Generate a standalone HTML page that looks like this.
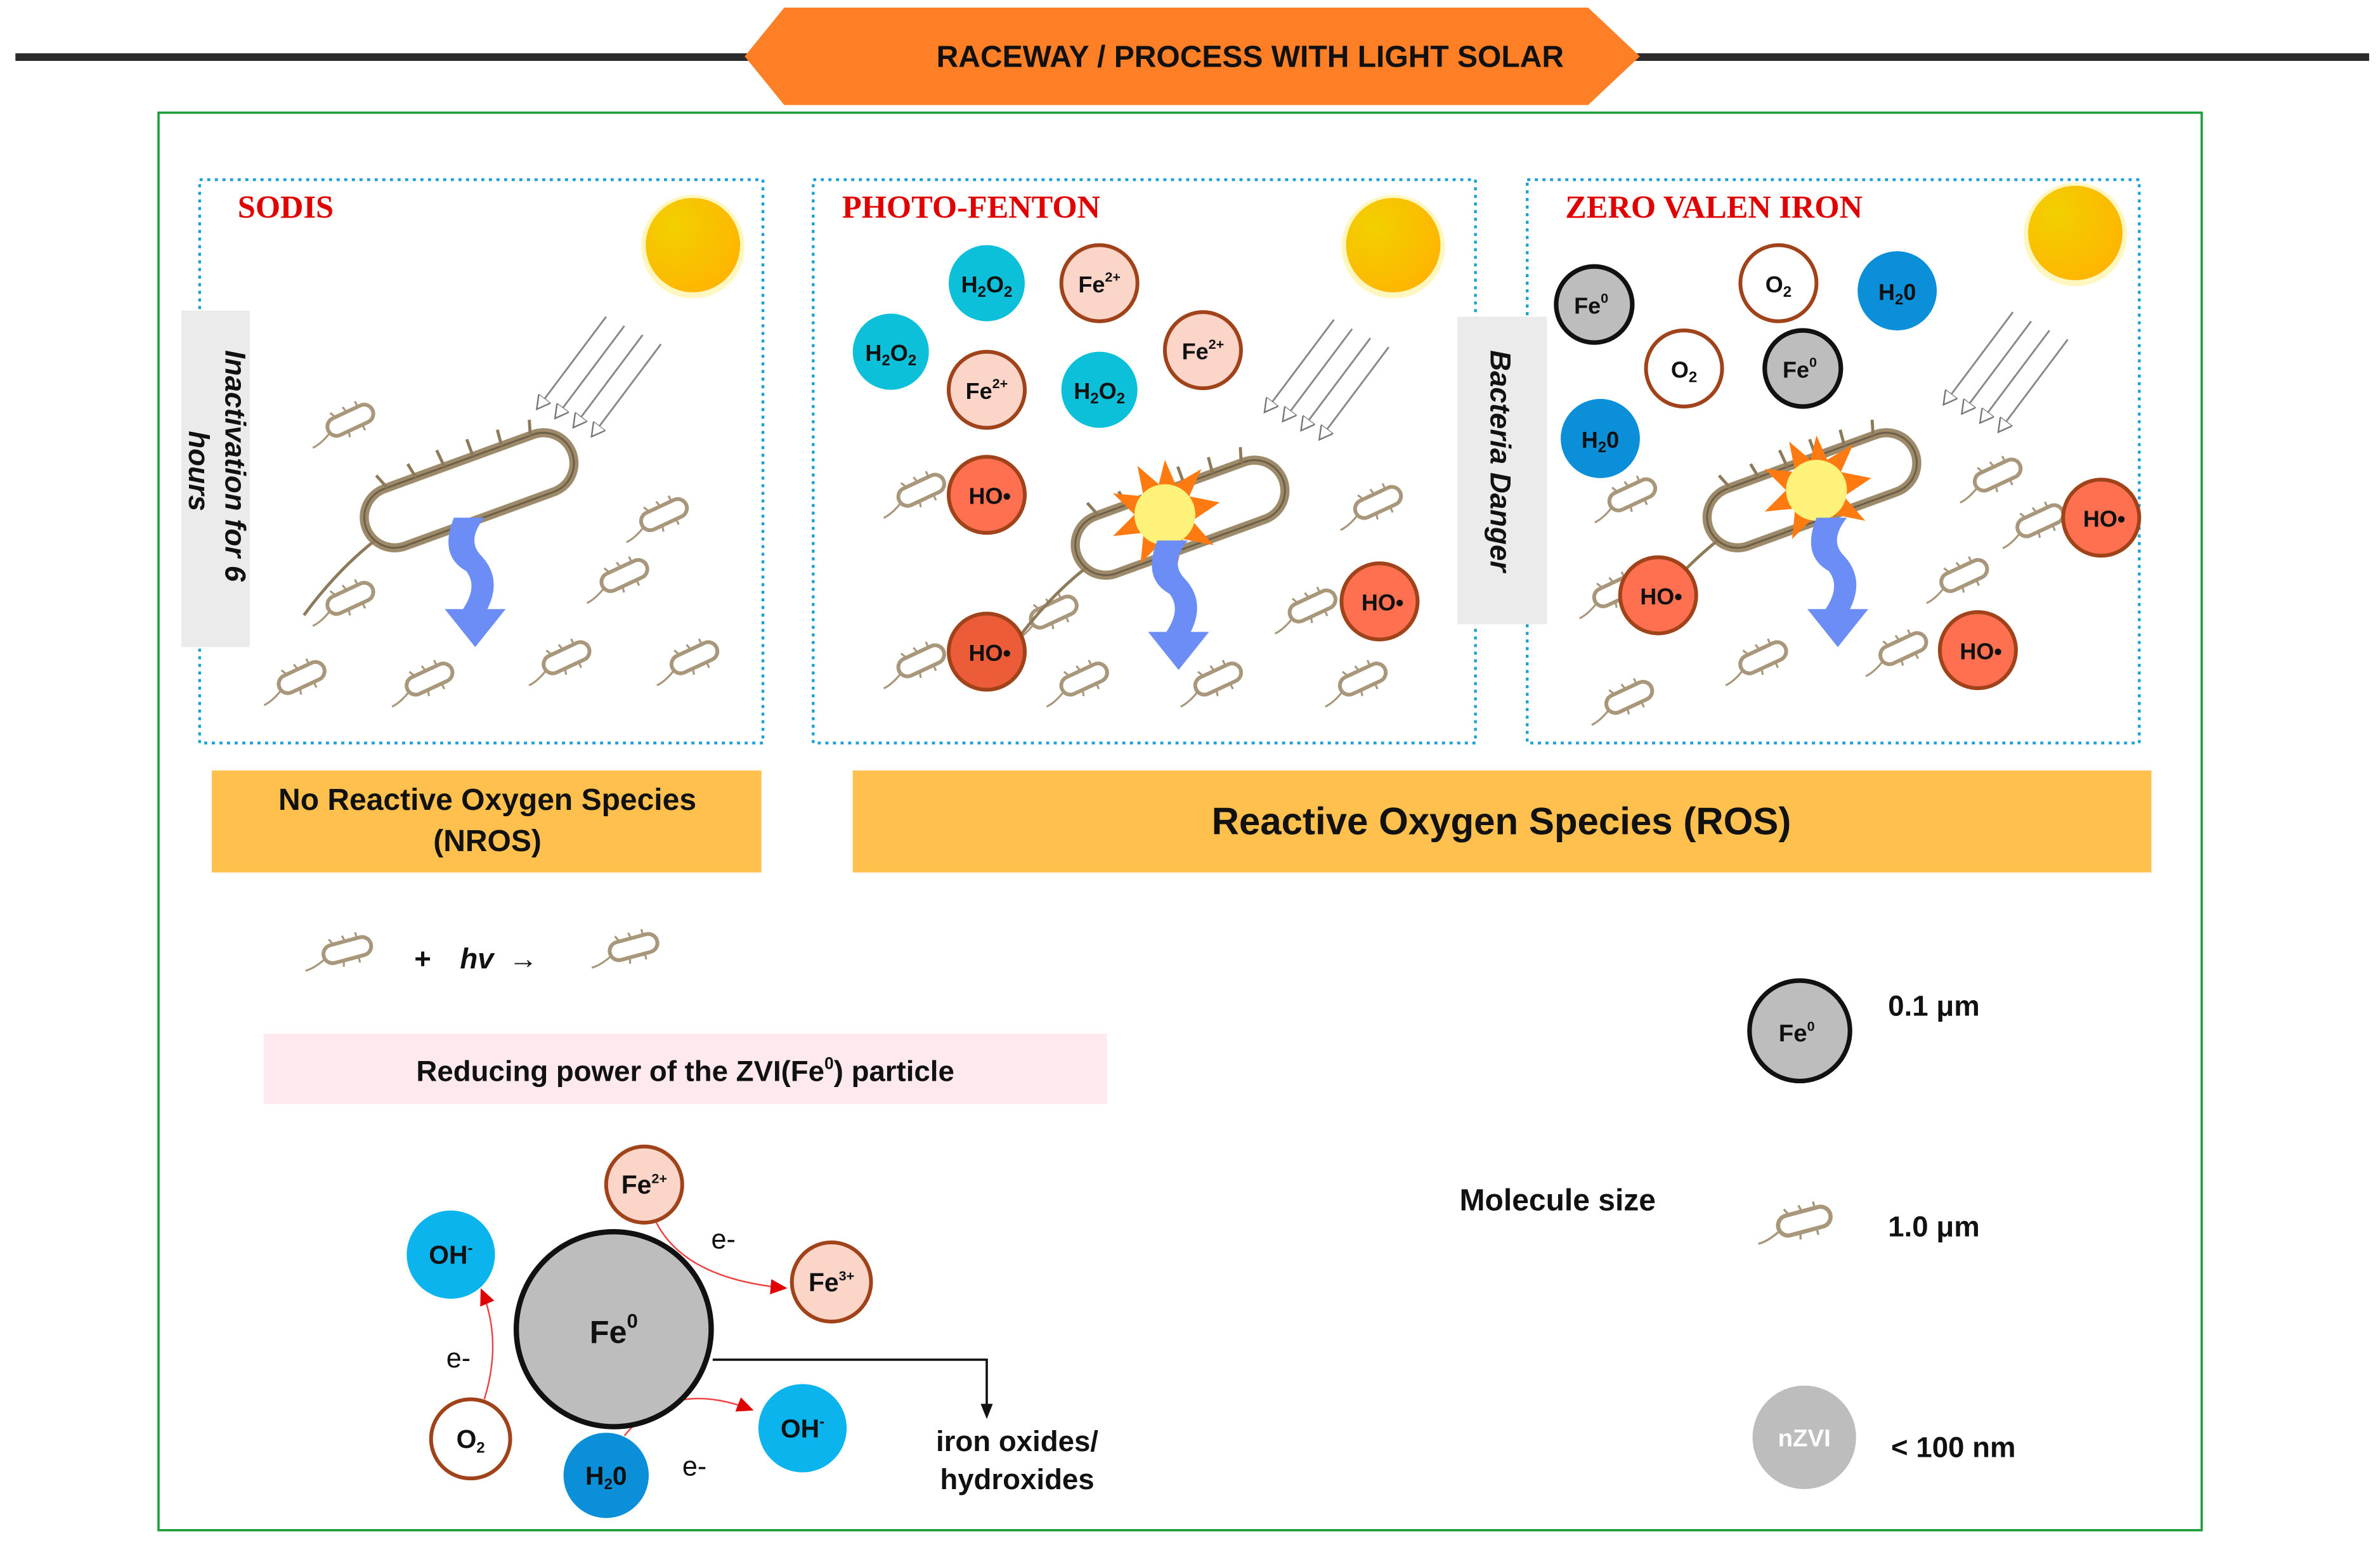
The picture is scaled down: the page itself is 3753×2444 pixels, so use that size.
<!DOCTYPE html>
<html><head><meta charset="utf-8"><style>html,body{margin:0;padding:0;background:#fff}svg{display:block}</style></head><body>
<svg width="3753" height="2444" viewBox="0 0 1563 1018" xmlns="http://www.w3.org/2000/svg" font-family="Liberation Sans, sans-serif">
<defs>
<radialGradient id="sun" cx="0.3" cy="0.3" r="0.8"><stop offset="0" stop-color="#f2d000"/><stop offset="1" stop-color="#ffb400"/></radialGradient>
<marker id="tri" markerWidth="10" markerHeight="10" refX="8" refY="5" orient="auto" markerUnits="userSpaceOnUse"><path d="M0,0 L9,5 L0,10 Z" fill="#fff" stroke="#777" stroke-width="1"/></marker>
<marker id="red" markerWidth="12" markerHeight="10" refX="10" refY="5" orient="auto" markerUnits="userSpaceOnUse"><path d="M0,0 L11,5 L0,10 Z" fill="#e00000"/></marker>
<marker id="blk" markerWidth="10" markerHeight="12" refX="5" refY="10" orient="auto-start-reverse" markerUnits="userSpaceOnUse"><path d="M0,0 L5,11 L10,0 Z" fill="#111" transform="rotate(-90 5 5)"/></marker>
<g id="bac">
<rect x="-16" y="-6" width="32" height="12" rx="6" fill="#fff" stroke="#a8977a" stroke-width="2.5"/>
<path d="M-16,2 q-8,4 -14,4 M-8,-6 l-2,-4 M0,-6 l-1,-4 M8,-6 l0,-4 M-4,6 l-1,4 M6,6 l0,4" stroke="#a8977a" stroke-width="1.3" fill="none"/>
</g>
<g id="big">
<rect x="-72" y="-20" width="144" height="40" rx="20" fill="#fff" stroke="#9c8a6a" stroke-width="6"/>
<rect x="-72" y="-20" width="144" height="40" rx="20" fill="none" stroke="#6e5e45" stroke-width="1.2"/>
<path d="M-70,10 q-30,10 -60,30 M-50,-20 l-4,-10 M-30,-20 l-2,-10 M-10,-20 l-1,-12 M10,-20 l0,-12 M30,-20 l1,-11 M50,-20 l3,-10" stroke="#8c7a5a" stroke-width="2" fill="none"/>
</g>
<g id="ray">
<line x1="0" y1="0" x2="-45" y2="60" stroke="#888" stroke-width="1.2" marker-end="url(#tri)"/>
<line x1="12" y1="6" x2="-33" y2="66" stroke="#888" stroke-width="1.2" marker-end="url(#tri)"/>
<line x1="24" y1="12" x2="-21" y2="72" stroke="#888" stroke-width="1.2" marker-end="url(#tri)"/>
<line x1="36" y1="18" x2="-9" y2="78" stroke="#888" stroke-width="1.2" marker-end="url(#tri)"/>
</g>
<g id="barrow"><path d="M-12,-40 q-10,25 8,35 q8,10 -2,25 l-12,0 l20,25 l20,-25 l-12,0 q10,-20 -4,-35 q-10,-10 2,-25 z" fill="#6b8df5"/></g>
<g id="burst"><polygon points="0,-36 7,-20 24,-30 16,-12 36,-8 18,4 32,20 12,16 8,34 -2,18 -16,32 -14,12 -34,14 -20,0 -34,-14 -14,-12 -18,-32 -4,-20" fill="#ff7a10"/><circle r="20" fill="#fff27a"/></g>
</defs>

<!-- header -->
<rect x="10" y="35" width="1546" height="5" fill="#2b2b2b"/>
<polygon points="489,37 515,5 1043,5 1077,37 1043,69 515,69" fill="#ff7f27"/>
<text x="821" y="44" font-size="20" font-weight="bold" text-anchor="middle" fill="#111">RACEWAY / PROCESS WITH LIGHT SOLAR</text>

<rect x="104" y="74" width="1342" height="931" fill="none" stroke="#1e9e3a" stroke-width="1.5"/>

<g fill="none" stroke="#1a9ed8" stroke-width="1.8" stroke-dasharray="2,3">
<rect x="131" y="118" width="370" height="370"/>
<rect x="534" y="118" width="435" height="370"/>
<rect x="1003" y="118" width="402" height="370"/>
</g>
<g font-family="Liberation Serif, serif" font-weight="bold" font-size="21" fill="#e00000">
<text x="156" y="143">SODIS</text><text x="553" y="143">PHOTO-FENTON</text><text x="1028" y="143">ZERO VALEN IRON</text>
</g>

<!-- suns -->
<circle cx="455" cy="162" r="34" fill="#fff6c0"/><circle cx="455" cy="161" r="31" fill="url(#sun)"/>
<circle cx="915" cy="162" r="34" fill="#fff6c0"/><circle cx="915" cy="161" r="31" fill="url(#sun)"/>
<circle cx="1363" cy="154" r="34" fill="#fff6c0"/><circle cx="1363" cy="153" r="31" fill="url(#sun)"/>

<use href="#ray" x="398" y="208"/>
<use href="#ray" x="876" y="210"/>
<use href="#ray" x="1322" y="205"/>

<!-- labels gray -->
<rect x="119" y="204" width="45" height="221" fill="#ebebeb"/>
<text transform="translate(148,230) rotate(90)" font-size="19" font-weight="bold" font-style="italic" fill="#111">Inactivation for 6</text>
<text transform="translate(124,283) rotate(90)" font-size="19" font-weight="bold" font-style="italic" fill="#111">hours</text>
<rect x="957" y="208" width="59" height="202" fill="#ebebeb"/>
<text transform="translate(979,230) rotate(90)" font-size="19" font-weight="bold" font-style="italic" fill="#111">Bacteria Danger</text>

<!-- SODIS bacteria -->
<use href="#bac" transform="translate(230,276) rotate(-25)"/>
<use href="#bac" transform="translate(436,338) rotate(-25)"/>
<use href="#bac" transform="translate(410,378) rotate(-25)"/>
<use href="#bac" transform="translate(230,393) rotate(-25)"/>
<use href="#bac" transform="translate(198,445) rotate(-25)"/>
<use href="#bac" transform="translate(282,446) rotate(-25)"/>
<use href="#bac" transform="translate(372,432) rotate(-25)"/>
<use href="#bac" transform="translate(456,432) rotate(-25)"/>
<use href="#big" transform="translate(308,322) rotate(-20)"/>
<use href="#barrow" x="310" y="380"/>

<!-- PF bacteria -->
<use href="#bac" transform="translate(605,322) rotate(-25)"/>
<use href="#bac" transform="translate(905,330) rotate(-25)"/>
<use href="#bac" transform="translate(862,398) rotate(-25)"/>
<use href="#bac" transform="translate(692,402) rotate(-25)"/>
<use href="#bac" transform="translate(605,434) rotate(-25)"/>
<use href="#bac" transform="translate(712,446) rotate(-25)"/>
<use href="#bac" transform="translate(800,446) rotate(-25)"/>
<use href="#bac" transform="translate(895,446) rotate(-25)"/>
<use href="#big" transform="translate(775,340) rotate(-20)"/>
<use href="#burst" x="765" y="338"/>
<use href="#barrow" x="772" y="395"/>

<!-- ZVI bacteria -->
<use href="#bac" transform="translate(1072,325) rotate(-25)"/>
<use href="#bac" transform="translate(1312,312) rotate(-25)"/>
<use href="#bac" transform="translate(1340,342) rotate(-25)"/>
<use href="#bac" transform="translate(1290,378) rotate(-25)"/>
<use href="#bac" transform="translate(1062,388) rotate(-25)"/>
<use href="#bac" transform="translate(1158,432) rotate(-25)"/>
<use href="#bac" transform="translate(1250,426) rotate(-25)"/>
<use href="#bac" transform="translate(1070,458) rotate(-25)"/>
<use href="#big" transform="translate(1190,322) rotate(-20)"/>
<use href="#burst" x="1193" y="322"/>
<use href="#barrow" x="1205" y="380"/>

<!-- molecules -->
<g font-size="15" font-weight="bold" text-anchor="middle" fill="#111">
<g fill="#0dc0da"><circle cx="648" cy="186" r="25"/><circle cx="585" cy="231" r="25"/><circle cx="722" cy="256" r="25"/></g>
<g fill="#fbd5c8" stroke="#a0421a" stroke-width="2.5"><circle cx="722" cy="186" r="25"/><circle cx="648" cy="256" r="25"/><circle cx="790" cy="230" r="25"/></g>
<g fill="#ff7050" stroke="#a0421a" stroke-width="2.5"><circle cx="648" cy="325" r="25"/><circle cx="648" cy="428" r="25" fill="#ec5c38"/><circle cx="906" cy="395" r="25"/>
<circle cx="1380" cy="340" r="25"/><circle cx="1089" cy="391" r="25"/><circle cx="1299" cy="427" r="25"/></g>
<g fill="#bdbdbd" stroke="#111" stroke-width="3"><circle cx="1047" cy="200" r="25"/><circle cx="1184" cy="242" r="25"/></g>
<g fill="#fff" stroke="#a0421a" stroke-width="2.5"><circle cx="1168" cy="186" r="25"/><circle cx="1106" cy="242" r="25"/></g>
<g fill="#0a8fd8"><circle cx="1246" cy="191" r="26"/><circle cx="1051" cy="288" r="26"/></g>

<text x="648" y="192">H<tspan font-size="10" dy="3">2</tspan><tspan dy="-3">O</tspan><tspan font-size="10" dy="3">2</tspan></text>
<text x="585" y="237">H<tspan font-size="10" dy="3">2</tspan><tspan dy="-3">O</tspan><tspan font-size="10" dy="3">2</tspan></text>
<text x="722" y="262">H<tspan font-size="10" dy="3">2</tspan><tspan dy="-3">O</tspan><tspan font-size="10" dy="3">2</tspan></text>
<text x="722" y="192">Fe<tspan font-size="9" dy="-7">2+</tspan></text>
<text x="648" y="262">Fe<tspan font-size="9" dy="-7">2+</tspan></text>
<text x="790" y="236">Fe<tspan font-size="9" dy="-7">2+</tspan></text>
<text x="650" y="331">HO•</text><text x="650" y="434">HO•</text><text x="908" y="401">HO•</text>
<text x="1382" y="346">HO•</text><text x="1091" y="397">HO•</text><text x="1301" y="433">HO•</text>
<text x="1045" y="206">Fe<tspan font-size="9" dy="-7">0</tspan></text>
<text x="1182" y="248">Fe<tspan font-size="9" dy="-7">0</tspan></text>
<text x="1168" y="192">O<tspan font-size="10" dy="3">2</tspan></text>
<text x="1106" y="248">O<tspan font-size="10" dy="3">2</tspan></text>
<text x="1246" y="197">H<tspan font-size="10" dy="3">2</tspan><tspan dy="-3">0</tspan></text>
<text x="1051" y="294">H<tspan font-size="10" dy="3">2</tspan><tspan dy="-3">0</tspan></text>
</g>

<!-- orange bars -->
<rect x="139" y="506" width="361" height="67" fill="#ffc04d"/>
<text x="320" y="532" font-size="20" font-weight="bold" text-anchor="middle" fill="#111">No Reactive Oxygen Species</text>
<text x="320" y="559" font-size="20" font-weight="bold" text-anchor="middle" fill="#111">(NROS)</text>
<rect x="560" y="506" width="853" height="67" fill="#ffc04d"/>
<text x="986" y="548" font-size="25" font-weight="bold" text-anchor="middle" fill="#111">Reactive Oxygen Species (ROS)</text>

<!-- equation -->
<use href="#bac" transform="translate(228,624) rotate(-15)"/>
<text x="272" y="636" font-size="19" font-weight="bold" fill="#111">+</text>
<text x="302" y="636" font-size="19" font-weight="bold" font-style="italic" fill="#111">hv</text>
<text x="334" y="636" font-size="19" font-weight="bold" fill="#111">→</text>
<use href="#bac" transform="translate(416,622) rotate(-15)"/>

<rect x="173" y="679" width="554" height="46" fill="#fde9ee"/>
<text x="450" y="710" font-size="19" font-weight="bold" text-anchor="middle" fill="#111">Reducing power of the ZVI(Fe<tspan font-size="11" dy="-8">0</tspan><tspan dy="8">) particle</tspan></text>

<!-- bottom diagram -->
<g fill="none" stroke="#f04040" stroke-width="1">
<path d="M431,803 Q450,840 516,846" marker-end="url(#red)"/>
<path d="M318,919 Q330,880 316,847" marker-end="url(#red)"/>
<path d="M410,943 Q440,905 494,926" marker-end="url(#red)"/>
</g>
<path d="M468,893 L648,893 L648,930" fill="none" stroke="#111" stroke-width="1.5"/>
<path d="M644,922 L648,932 L652,922 Z" fill="#111"/>
<g font-size="17" font-weight="bold" text-anchor="middle" fill="#111">
<circle cx="403" cy="873" r="64" fill="#bdbdbd" stroke="#111" stroke-width="3.5"/>
<text x="403" y="882" font-size="21">Fe<tspan font-size="13" dy="-10">0</tspan></text>
<circle cx="296" cy="824" r="29" fill="#0cb4ee"/><text x="296" y="830">OH<tspan font-size="10" dy="-7">-</tspan></text>
<circle cx="527" cy="938" r="29" fill="#0cb4ee"/><text x="527" y="944">OH<tspan font-size="10" dy="-7">-</tspan></text>
<circle cx="309" cy="945" r="26" fill="#fff" stroke="#a0421a" stroke-width="2.5"/><text x="309" y="951">O<tspan font-size="10" dy="3">2</tspan></text>
<circle cx="398" cy="969" r="28" fill="#0a8fd8"/><text x="398" y="975">H<tspan font-size="10" dy="3">2</tspan><tspan dy="-3">0</tspan></text>
<circle cx="423" cy="778" r="25" fill="#fbd5c8" stroke="#a0421a" stroke-width="2.5"/><text x="423" y="784">Fe<tspan font-size="9" dy="-7">2+</tspan></text>
<circle cx="546" cy="842" r="26" fill="#fbd5c8" stroke="#a0421a" stroke-width="2.5"/><text x="546" y="848">Fe<tspan font-size="9" dy="-7">3+</tspan></text>
</g>
<g font-size="18" fill="#111">
<text x="467" y="820">e-</text><text x="293" y="898">e-</text><text x="448" y="969">e-</text>
</g>
<text x="668" y="953" font-size="19" font-weight="bold" text-anchor="middle" fill="#111">iron oxides/</text>
<text x="668" y="978" font-size="19" font-weight="bold" text-anchor="middle" fill="#111">hydroxides</text>

<!-- legend -->
<circle cx="1182" cy="677" r="33" fill="#bdbdbd" stroke="#111" stroke-width="3"/>
<text x="1180" y="684" font-size="16" font-weight="bold" text-anchor="middle" fill="#111">Fe<tspan font-size="9" dy="-7">0</tspan></text>
<text x="1240" y="667" font-size="19" font-weight="bold" fill="#111">0.1 μm</text>
<text x="1023" y="795" font-size="20" font-weight="bold" text-anchor="middle" fill="#111">Molecule size</text>
<use href="#bac" transform="translate(1185,802) rotate(-15) scale(1.1)"/>
<text x="1240" y="812" font-size="19" font-weight="bold" fill="#111">1.0 μm</text>
<circle cx="1185" cy="944" r="34" fill="#bdbdbd"/>
<text x="1185" y="950" font-size="16" font-weight="bold" text-anchor="middle" fill="#fff">nZVI</text>
<text x="1242" y="957" font-size="19" font-weight="bold" fill="#111">&lt; 100 nm</text>
</svg>
</body></html>
